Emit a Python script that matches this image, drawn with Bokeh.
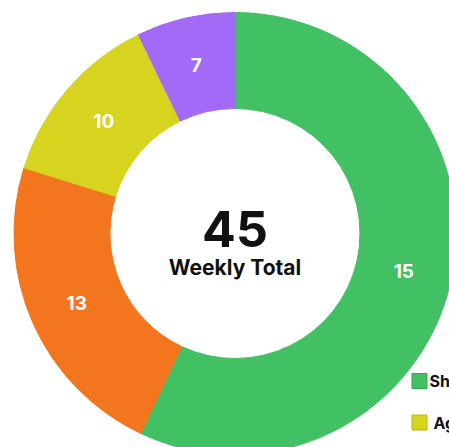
import math
from bokeh.plotting import figure
from bokeh.models import Range1d, ColumnDataSource
from bokeh.core.properties import value
from bokeh.embed import file_html
from bokeh.resources import INLINE

# ---- data ----
values = [15, 13, 10, 7]
colors = ["#41C163", "#F3761F", "#D6D41E", "#A36AF8"]
arc_share = [57.0, 22.8, 13.0, 7.2]   # share of the ring each slice covers, % (as drawn)
total_label = "45"
subtitle = "Weekly Total"
legend_names = ["Shopping", "Agenda"]
legend_colors = ["#41C163", "#D6D41E"]
legend_edges = ["#2FA84E", "#B9B812"]

# ---- layout ----
W, H = 449, 447
cx, cy = 234.5, H - 233
r_in, r_out = 125, 221
r_mid = (r_in + r_out) / 2
FONT = value("Inter")

p = figure(width=W, height=H, x_range=Range1d(0, W), y_range=Range1d(0, H),
           output_backend="svg", toolbar_location=None, min_border=0)
p.axis.visible = False
p.grid.visible = False
p.outline_line_color = None
p.background_fill_color = "white"
p.border_fill_color = "white"

starts, ends, lx, ly = [], [], [], []
cum = 0.0
for s in arc_share:
    a0 = 90 - cum * 3.6
    cum += s
    a1 = 90 - cum * 3.6
    starts.append(math.radians(a0))
    ends.append(math.radians(a1))
    am = math.radians((a0 + a1) / 2)
    lx.append(cx + r_mid * math.cos(am))
    ly.append(cy + r_mid * math.sin(am))

src = ColumnDataSource(dict(start=starts, end=ends, color=colors,
                            lx=lx, ly=ly, label=[str(v) for v in values]))
p.annular_wedge(x=cx, y=cy, inner_radius=r_in, outer_radius=r_out,
                start_angle="start", end_angle="end", direction="clock",
                fill_color="color", line_color="color", line_width=1, source=src)

p.text(x="lx", y="ly", text="label", source=src, text_color="white",
       text_font=FONT, text_font_style="bold", text_font_size="19px",
       text_align="center", text_baseline="middle")

p.text(x=[cx], y=[H - 228], text=[total_label], text_color="#111111",
       text_font=FONT, text_font_style="bold", text_font_size="50px",
       text_align="center", text_baseline="middle")
p.text(x=[cx], y=[H - 267], text=[subtitle], text_color="#111111",
       text_font=FONT, text_font_style="bold", text_font_size="21px",
       text_align="center", text_baseline="middle")

# legend (partly outside the window)
leg_y = [H - 380.5, H - 422]
p.rect(x=[419] * 2, y=leg_y, width=15, height=15, fill_color=legend_colors,
       line_color=legend_edges, line_width=1)
p.text(x=[429, 433], y=leg_y, text=legend_names, text_color="#111111",
       text_font=FONT, text_font_style="bold", text_font_size="16px",
       text_align="left", text_baseline="middle")

open("out.html", "w").write(file_html(p, INLINE))
